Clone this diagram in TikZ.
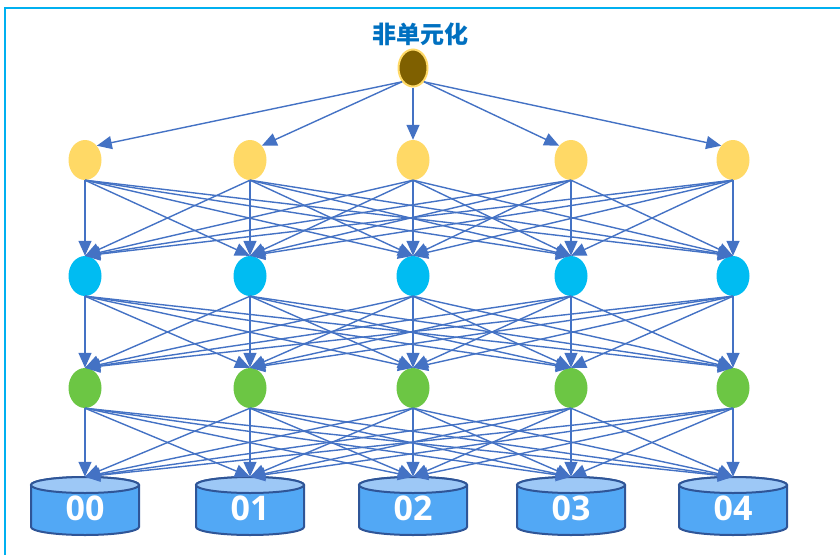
\documentclass[tikz,border=0pt]{standalone}
\usepackage{fontspec}
\newfontfamily\cjk{Noto Sans CJK SC}
\newfontfamily\numfont{Open Sans}
\usetikzlibrary{arrows.meta,shapes.geometric}
\definecolor{edgeblue}{HTML}{4472C4}
\definecolor{framecyan}{HTML}{00B0F0}
\definecolor{nyellow}{HTML}{FFD966}
\definecolor{ncyan}{HTML}{00BCF2}
\definecolor{ngreen}{HTML}{6CC644}
\definecolor{nbrown}{HTML}{7F6000}
\definecolor{cylbody}{HTML}{52A8F5}
\definecolor{cyltop}{HTML}{9DC8F6}
\definecolor{cylline}{HTML}{2F5597}
\definecolor{titleblue}{HTML}{0070C0}
\tikzset{
  dot/.style={ellipse, minimum width=33pt, minimum height=40pt, inner sep=0pt, draw=none},
  conn/.style={edgeblue, line width=1.4pt, -{Triangle[length=15pt,width=13pt]}},
  cylbox/.style={rectangle, minimum width=108pt, minimum height=58pt, inner sep=0pt, draw=none},
  cylshape/.style={draw=cylline, line width=2pt, fill=cylbody},
  numtext/.style={text=white, font=\numfont\bfseries\fontsize{34}{34}\selectfont},
}
\begin{document}
\begin{tikzpicture}[x=1pt,y=-1pt]
\useasboundingbox (0,0) rectangle (840,554);
\begin{scope}
\clip (0,0) rectangle (840,554);
\draw[framecyan, line width=2.5pt] (5,8) rectangle (880,600);
\end{scope}
\node[font=\cjk\bfseries\fontsize{24}{24}\selectfont, text=titleblue] (title) at (420,34) {非单元化};
\node[dot, fill=nbrown, draw=nyellow, line width=2pt, minimum width=29pt, minimum height=37pt] (r) at (413,68) {};
\foreach \x [count=\i] in {85,250,413,571,733} {
  \node[dot, fill=nyellow] (y\i) at (\x,160) {};
  \node[dot, fill=ncyan] (b\i) at (\x,276) {};
  \node[dot, fill=ngreen] (g\i) at (\x,388) {};
  \node[cylbox] (c\i) at (\x,506) {};
  \draw[cylshape] ({\x-54},485) -- ({\x-54},527) arc[start angle=180, end angle=0, x radius=54, y radius=8] -- ({\x+54},485) arc[start angle=0, end angle=-180, x radius=54, y radius=8] -- cycle;
  \draw[cylshape, fill=cyltop] (\x,485) ellipse[x radius=54, y radius=8];
  \pgfmathtruncatemacro{\k}{\i-1}
  \node[numtext] at (\x,508) {0\k};
}
\draw[conn] (r.south west) -- (y1.north east);
\draw[conn] (r.south west) -- (y2.north east);
\draw[conn] (r.south) -- (y3.north);
\draw[conn] (r.south east) -- (y4.north west);
\draw[conn] (r.south east) -- (y5.north west);
\foreach \i in {1,...,5} {
  \foreach \j in {1,...,5} {
    \draw[conn] (y\i.south) -- (b\j.north);
    \draw[conn] (b\i.south) -- (g\j.north);
    \draw[conn] (g\i.south) -- (c\j.north);
  }
}
\end{tikzpicture}
\end{document}
